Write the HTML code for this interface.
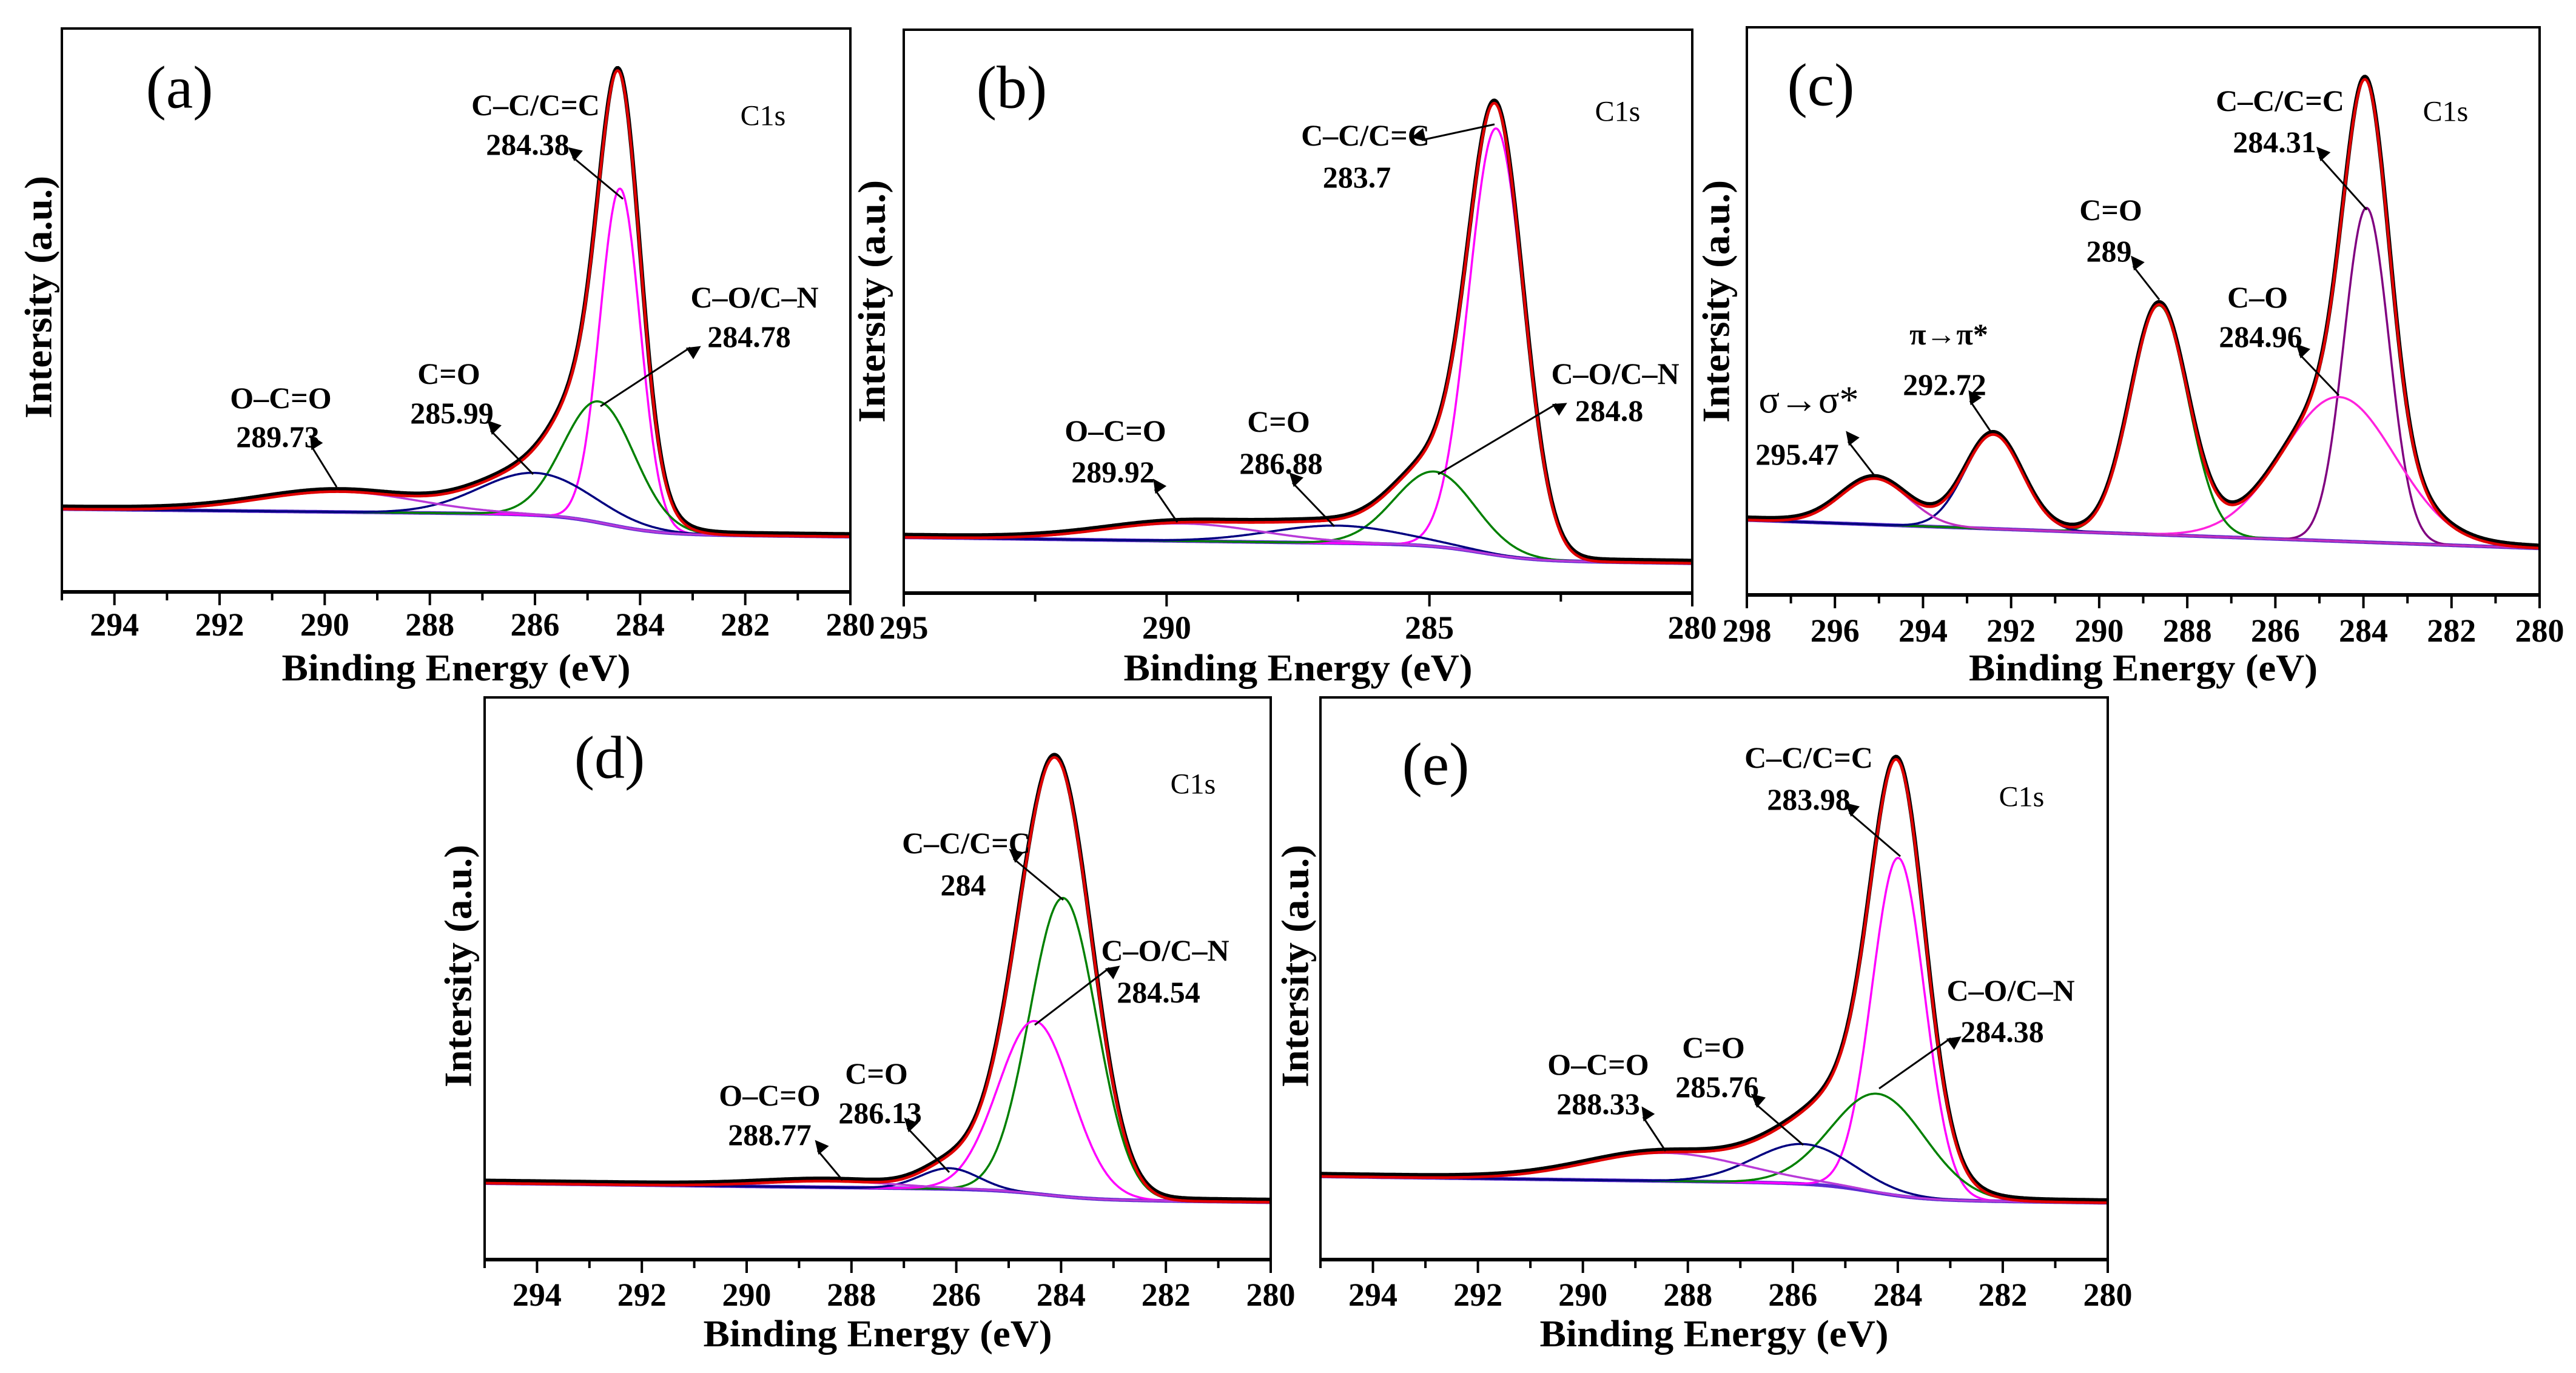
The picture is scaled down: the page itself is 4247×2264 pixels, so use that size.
<!DOCTYPE html>
<html>
<head>
<meta charset="utf-8">
<style>
html,body{margin:0;padding:0;background:#fff;}
svg{display:block;}
text{font-family:"Liberation Serif","DejaVu Serif",serif;}
</style>
</head>
<body>
<svg id="fig" width="4247" height="2264" viewBox="0 0 4247 2264" xmlns="http://www.w3.org/2000/svg">
<defs>
<marker id="ah" viewBox="0 0 10 10" refX="9" refY="5" markerWidth="7" markerHeight="7" markerUnits="userSpaceOnUse" orient="auto" style="overflow:visible">
<path d="M0,0 L10,5 L0,10 Z" fill="#000" transform="scale(3.2) translate(-6,-5) translate(6,5)"/>
</marker>
</defs>
</svg>
<script>
// ---------- data (peak positions eV, heights a.u., FWHM eV) ----------
const aCenters=[284.38,284.78,285.99,289.73];
const aHeights=[600,215,75,36];
const aFwhm=[0.9,1.6,2.5,3.5];
const aBg=[147,98];

const bCenters=[283.73,284.9,286.75,289.7];
const bHeights=[757,133,31,31];
const bFwhm=[1.23,1.8,3.0,3.5];
const bBg=[99,53];

const cCenters=[283.93,284.56,288.64,292.4,295.1];
const cHeights=[589,254,404,166,81];
const cFwhm=[1.2,3.0,1.53,1.53,1.8];
const cBg=[132,82];

const dCenters=[283.96,284.5,286.13,288.4];
const dHeights=[531,307,37,11];
const dFwhm=[1.5,1.65,1.3,3.0];
const dBg=[136,102];

const eCenters=[283.99,284.36,285.8,288.43];
const eHeights=[601,176,71,50];
const eFwhm=[1.18,2.1,2.2,3.5];
const eBg=[148,101];

const ticksA=[294,292,290,288,286,284,282,280];
const ticksB=[295,290,285,280];
const ticksC=[298,296,294,292,290,288,286,284,282,280];

const NS="http://www.w3.org/2000/svg";
const svg=document.getElementById('fig');
function mk(tag,attrs,parent){const e=document.createElementNS(NS,tag);for(const k in attrs)e.setAttribute(k,attrs[k]);(parent||svg).appendChild(e);return e;}

const panels=[
 {id:'a',box:[102,47,1402,976],xmax:295,C:aCenters,H:aHeights,F:aFwhm,BG:aBg,step:[284.6,0.5,0.7],
  colors:['#ff00ff','#008000','#000080','#b83ad8'],ticks:ticksA,minorStep:1,tickY:1030,beY:1102,ylab:[63,490],
  letter:[296,144],c1s:[1258,191],
  labels:[["C–C/C=C",883,173],["284.38",870,238],["C–O/C–N",1244,490],["284.78",1235,555],["C=O",740,616],["285.99",745,681],["O–C=O",463,656],["289.73",458,720]],
  arrows:[[1027,328,944,259],[990,670,1138,573],[879,782,809,710],[555,803,513,735]]},
 {id:'b',box:[1490,49,2790,978],xmax:295,C:bCenters,H:bHeights,F:bFwhm,BG:bBg,step:[284.0,0.5,0.6],
  colors:['#ff00ff','#008000','#000080','#b83ad8'],ticks:ticksB,minorStep:2.5,tickY:1035,beY:1102,ylab:[1437,497],
  letter:[1668,144],c1s:[2667,184],
  labels:[["C–C/C=C",2251,223],["283.7",2237,292],["C–O/C–N",2663,616],["284.8",2653,677],["C=O",2108,695],["286.88",2112,764],["O–C=O",1839,710],["289.92",1835,778]],
  arrows:[[2464,205,2344,231],[2371,782,2566,666],[2200,868,2131,796],[1941,861,1904,807]]},
 {id:'c',box:[2880,45,4187,981],xmax:298,C:cCenters,H:cHeights,F:cFwhm,BG:cBg,step:[284,0.5,0],
  colors:['#800080','#ff22dd','#008000','#000080','#c030c0'],ticks:ticksC,minorStep:1,tickY:1040,beY:1102,ylab:[2829,497],
  letter:[3002,140],c1s:[4032,184],
  labels:[["C–C/C=C",3759,166],["284.31",3750,234],["C=O",3480,346],["289",3477,414],["C–O",3722,490],["284.96",3727,555],["π→π*",3213,551],["292.72",3206,634],["295.47",2963,749]],
  arrows:[[3902,346,3824,259],[3856,652,3791,584],[3560,494,3517,439],[3283,713,3248,661],[3091,785,3047,728]]},
 {id:'d',box:[799,1150,2095,2077],xmax:295,C:dCenters,H:dHeights,F:dFwhm,BG:dBg,step:[284.3,0.5,0.5],
  colors:['#008000','#ff00ff','#000080','#b83ad8'],ticks:ticksA,minorStep:1,tickY:2135,beY:2200,ylab:[755,1593],
  letter:[1005,1249],c1s:[1967,1293],
  labels:[["C–C/C=C",1593,1390],["284",1588,1459],["C–O/C–N",1921,1567],["284.54",1910,1636],["C=O",1445,1770],["286.13",1451,1835],["O–C=O",1269,1806],["288.77",1269,1871]],
  arrows:[[1753,1484,1671,1416],[1706,1690,1829,1596],[1565,1933,1496,1860],[1389,1946,1348,1897]]},
 {id:'e',box:[2177,1150,3475,2077],xmax:295,C:eCenters,H:eHeights,F:eFwhm,BG:eBg,step:[284.5,0.5,0.6],
  colors:['#ff00ff','#008000','#000080','#b83ad8'],ticks:ticksA,minorStep:1,tickY:2135,beY:2200,ylab:[2135,1593],
  letter:[2367,1260],c1s:[3333,1314],
  labels:[["C–C/C=C",2982,1249],["283.98",2982,1318],["C–O/C–N",3315,1633],["284.38",3301,1701],["C=O",2825,1727],["285.76",2831,1792],["O–C=O",2635,1755],["288.33",2635,1820]],
  arrows:[[3133,1412,3049,1340],[3098,1795,3216,1712],[2973,1888,2894,1820],[2746,1898,2709,1842]]}
];

function gauss(x,c,h,f){const s=f/2.3548;return h*Math.exp(-(x-c)*(x-c)/(2*s*s));}

panels.forEach(p=>{
  const [L,T,R,B]=p.box;
  const xS=v=>L+(p.xmax-v)/(p.xmax-280)*(R-L);
  const yS=v=>B-v/1000*(B-T);
  const bg=x=>{const [sc,sw,fr]=p.step;const sig=1/(1+Math.exp(-(x-sc)/sw));const lin=(x-280)/(p.xmax-280);return p.BG[1]+(p.BG[0]-p.BG[1])*(fr*sig+(1-fr)*lin);};
  const g=mk('g',{});
  
  
  const xs=[];for(let x=p.xmax;x>=280-1e-9;x-=0.02)xs.push(x);
  const pathOf=fn=>xs.map((x,i)=>(i?'L':'M')+xS(x).toFixed(1)+','+yS(fn(x)).toFixed(1)).join('');
  const env=x=>bg(x)+p.C.reduce((s,c,i)=>s+gauss(x,c,p.H[i],p.F[i]),0);
  // background
  const bgp=mk('path',{d:pathOf(bg),fill:'none',stroke:'#5a2ad0','stroke-width':6},g);
  
  
  // components
  p.C.forEach((c,i)=>{
    const cp=mk('path',{d:pathOf(x=>bg(x)+gauss(x,c,p.H[i],p.F[i])),fill:'none',stroke:p.colors[i],'stroke-width':3.5},g);
    
    
  });
  // raw (black) and envelope (red)
  const raw=mk('path',{d:pathOf(env),fill:'none',stroke:'#000','stroke-width':7,transform:'translate(0,-4)'},g);
  
  
  const ep=mk('path',{d:pathOf(env),fill:'none',stroke:'#e00000','stroke-width':4.5},g);
  
  
  // box
  const bx=mk('rect',{x:L,y:T,width:R-L,height:B-T,fill:'none',stroke:'#000','stroke-width':4},g);
  
  
  const ax=mk('line',{x1:L,y1:B,x2:R,y2:B,stroke:'#000','stroke-width':6},g);
  
  
  // ticks
  for(let v=280;v<=p.xmax+1e-9;v+=p.minorStep){
    const major=p.ticks.some(t=>Math.abs(t-v)<1e-6);
    const tl=mk('line',{x1:xS(v),y1:B,x2:xS(v),y2:B+(major?22:14),stroke:'#000','stroke-width':4},g);
    
    
  }
  p.ticks.forEach(t=>{
    const tt=mk('text',{x:xS(t),y:p.tickY,'font-size':54,'font-weight':'bold','text-anchor':'middle','dominant-baseline':'central'},g);
    tt.textContent=t;
    
    
  });
  const be=mk('text',{x:(L+R)/2,y:p.beY,'font-size':62,'font-weight':'bold','text-anchor':'middle','dominant-baseline':'central',textLength:575,lengthAdjust:'spacingAndGlyphs'},g);
  be.textContent='Binding Energy (eV)';
  
  
  const yl=mk('text',{x:0,y:0,'font-size':64,'font-weight':'bold','text-anchor':'middle','dominant-baseline':'central',textLength:400,lengthAdjust:'spacingAndGlyphs',transform:`translate(${p.ylab[0]},${p.ylab[1]}) rotate(-90)`},g);
  yl.textContent='Intersity (a.u.)';
  
  
  const lt=mk('text',{x:p.letter[0],y:p.letter[1],'font-size':100,'text-anchor':'middle','dominant-baseline':'central'},g);
  lt.textContent='('+p.id+')';
  
  
  const cs=mk('text',{x:p.c1s[0],y:p.c1s[1],'font-size':48,'text-anchor':'middle','dominant-baseline':'central'},g);
  cs.textContent='C1s';
  
  
  p.labels.forEach(l=>{
    const t=mk('text',{x:l[1],y:l[2],'font-size':50,'font-weight':'bold','text-anchor':'middle','dominant-baseline':'central'},g);
    t.textContent=l[0];
    
    
  });
  p.arrows.forEach(a=>{
    const ar=mk('line',{x1:a[0],y1:a[1],x2:a[2],y2:a[3],stroke:'#000','stroke-width':3,'marker-end':'url(#ah)'},g);
    
    
  });
  if(p.id==='c'){
    const s=mk('text',{x:2982,y:659,'font-size':64,'text-anchor':'middle','dominant-baseline':'central'},g);
    s.textContent='σ→σ*';
    
    
  }
});
</script>
</body>
</html>
